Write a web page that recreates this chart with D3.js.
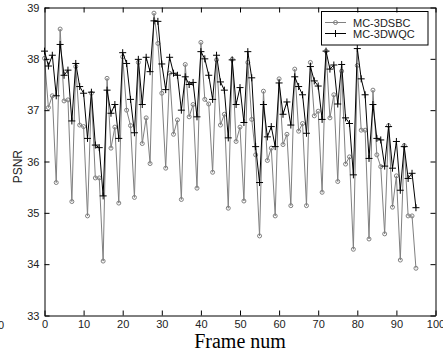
<!DOCTYPE html>
<html lang="en">
<head>
<meta charset="UTF-8">
<title>PSNR per frame</title>
<script src="https://d3js.org/d3.v7.min.js"></script>
<style>
  body { margin: 0; background: #fff; }
  svg { display: block; }
  .tick text { font-family: "Liberation Sans", Arial, sans-serif; font-size: 11px; fill: #222; }
</style>
</head>
<body>
<div id="chart"></div>
<script>
// PSNR per frame, frame index = array position (0..95)
const sbc = [38.01, 37.05, 37.28, 35.59, 38.58, 37.18, 37.20, 35.22, 37.85, 36.71,
  36.68, 34.94, 37.33, 35.68, 35.68, 34.06, 37.62, 36.26, 36.67, 35.19,
  38.04, 37.00, 36.70, 35.30, 37.93, 36.35, 36.85, 35.96, 38.89, 38.30,
  37.33, 35.87, 37.72, 36.53, 36.81, 35.26, 37.89, 36.87, 37.11, 35.48,
  38.32, 37.21, 37.12, 35.79, 37.98, 36.71, 36.92, 35.09, 37.99, 36.39,
  36.67, 35.23, 37.93, 36.82, 36.13, 34.55, 37.37, 36.02, 36.26, 34.94,
  37.61, 36.33, 36.53, 35.14, 37.80, 36.59, 36.74, 35.14, 37.93, 36.89,
  36.98, 35.40, 38.15, 36.85, 37.30, 35.61, 37.76, 35.95, 36.09, 34.29,
  37.87, 36.61, 36.61, 34.49, 37.39, 36.13, 35.90, 34.59, 36.70, 35.11,
  35.72, 34.08, 36.31, 34.94, 34.94, 33.92];
const wqc = [38.15, 37.86, 38.07, 37.28, 38.28, 37.68, 37.78, 36.79, 37.91, 37.46,
  37.33, 36.45, 37.35, 36.32, 36.27, 35.33, 37.39, 36.94, 37.11, 36.45,
  38.12, 37.91, 37.21, 36.56, 37.99, 37.11, 38.03, 37.75, 38.74, 38.73,
  37.90, 37.40, 38.03, 37.72, 37.68, 37.00, 37.65, 37.50, 37.54, 36.87,
  38.14, 38.00, 37.68, 37.21, 38.07, 37.55, 37.39, 36.46, 37.98, 37.11,
  37.44, 36.76, 38.14, 37.63, 36.29, 35.59, 37.11, 36.48, 36.68, 36.29,
  37.53, 36.92, 37.16, 36.71, 37.65, 37.46, 37.30, 36.55, 37.85, 37.57,
  37.47, 36.82, 38.15, 37.80, 37.88, 37.12, 37.89, 36.85, 36.74, 35.74,
  38.20, 37.61, 37.30, 36.06, 37.11, 36.45, 36.42, 35.91, 36.68, 35.87,
  36.39, 35.44, 36.29, 35.67, 35.77, 35.10];
const xTicks = [0, 10, 20, 30, 40, 50, 60, 70, 80, 90, 100];
const yTicks = [33, 34, 35, 36, 37, 38, 39];
const seriesNames = ["MC-3DSBC", "MC-3DWQC"];

const W = 443, H = 354;
const gray = "#808080";
const sans = "'Liberation Sans', Arial, sans-serif";

const svg = d3.select("#chart").append("svg")
  .attr("width", W).attr("height", H);

const x = d3.scaleLinear().domain([0, 100]).range([44.5, 435.5]);
const y = d3.scaleLinear().domain([33, 39]).range([315.5, 7.5]);

const line = d3.line().x((d, i) => x(i)).y(d => y(d));

// MC-3DSBC: gray line with hollow circles
svg.append("path").datum(sbc)
  .attr("d", line).attr("fill", "none").attr("stroke", gray).attr("stroke-width", 1);
svg.append("g").selectAll("circle").data(sbc).join("circle")
  .attr("cx", (d, i) => x(i)).attr("cy", d => y(d)).attr("r", 2)
  .attr("fill", "none").attr("stroke", gray).attr("stroke-width", 1);

// MC-3DWQC: black line with plus markers
svg.append("path").datum(wqc)
  .attr("d", line).attr("fill", "none").attr("stroke", "#000").attr("stroke-width", 1);
svg.append("g").selectAll("path").data(wqc).join("path")
  .attr("d", (d, i) => {
    const cx = x(i), cy = y(d);
    return "M" + (cx - 3.5) + "," + cy + "H" + (cx + 3.5) + "M" + cx + "," + (cy - 3.5) + "V" + (cy + 3.5);
  })
  .attr("fill", "none").attr("stroke", "#000").attr("stroke-width", 1);

// legend
const lg = svg.append("g");
lg.append("rect").attr("x", 321.5).attr("y", 11.5).attr("width", 106.5).attr("height", 33.5)
  .attr("fill", "#fff").attr("stroke", "#000");
const rows = [22.5, 33.5];
seriesNames.forEach((name, k) => {
  const ly = rows[k];
  const col = k === 0 ? gray : "#000";
  lg.append("line").attr("x1", 325).attr("x2", 346).attr("y1", ly).attr("y2", ly)
    .attr("stroke", col);
  if (k === 0) {
    lg.append("circle").attr("cx", 335.5).attr("cy", ly).attr("r", 2)
      .attr("fill", "none").attr("stroke", gray);
  } else {
    lg.append("path").attr("d", "M332," + ly + "H339M335.5," + (ly - 3.5) + "V" + (ly + 3.5))
      .attr("stroke", "#000");
  }
  lg.append("text").attr("x", 353).attr("y", ly + 4)
    .style("font-family", sans).style("font-size", "11px").attr("fill", "#222")
    .text(name);
});

// axes, ticks pointing inward on all four sides
svg.append("g").attr("transform", "translate(0," + y(39) + ")")
  .call(d3.axisTop(x).tickValues(xTicks).tickSizeInner(-5).tickSizeOuter(0).tickFormat(""));
svg.append("g").attr("transform", "translate(" + x(100) + ",0)")
  .call(d3.axisRight(y).tickValues(yTicks).tickSizeInner(-5).tickSizeOuter(0).tickFormat(""));
svg.append("g").attr("transform", "translate(0," + y(33) + ")")
  .call(d3.axisBottom(x).tickValues(xTicks).tickFormat(d3.format("d"))
    .tickSizeInner(-5).tickSizeOuter(0).tickPadding(5));
svg.append("g").attr("transform", "translate(" + x(0) + ",0)")
  .call(d3.axisLeft(y).tickValues(yTicks).tickFormat(d3.format("d"))
    .tickSizeInner(-5).tickSizeOuter(0).tickPadding(5));
svg.selectAll(".domain").attr("stroke", "#000");
svg.selectAll(".tick line").attr("stroke", "#000");

// axis titles
svg.append("text")
  .attr("transform", "translate(22," + (y(35.9)) + ") rotate(-90)")
  .attr("text-anchor", "middle")
  .style("font-family", sans).style("font-size", "12px").attr("fill", "#222")
  .text("PSNR");
svg.append("text")
  .attr("x", x(50)).attr("y", 348)
  .attr("text-anchor", "middle")
  .style("font-family", "'Liberation Serif', 'Times New Roman', serif").style("font-size", "20px").attr("fill", "#000")
  .text("Frame num");
svg.append("text")
  .attr("x", 4).attr("y", 328.5).attr("text-anchor", "end")
  .style("font-family", sans).style("font-size", "11px").attr("fill", "#222")
  .text("0");
</script>
</body>
</html>
